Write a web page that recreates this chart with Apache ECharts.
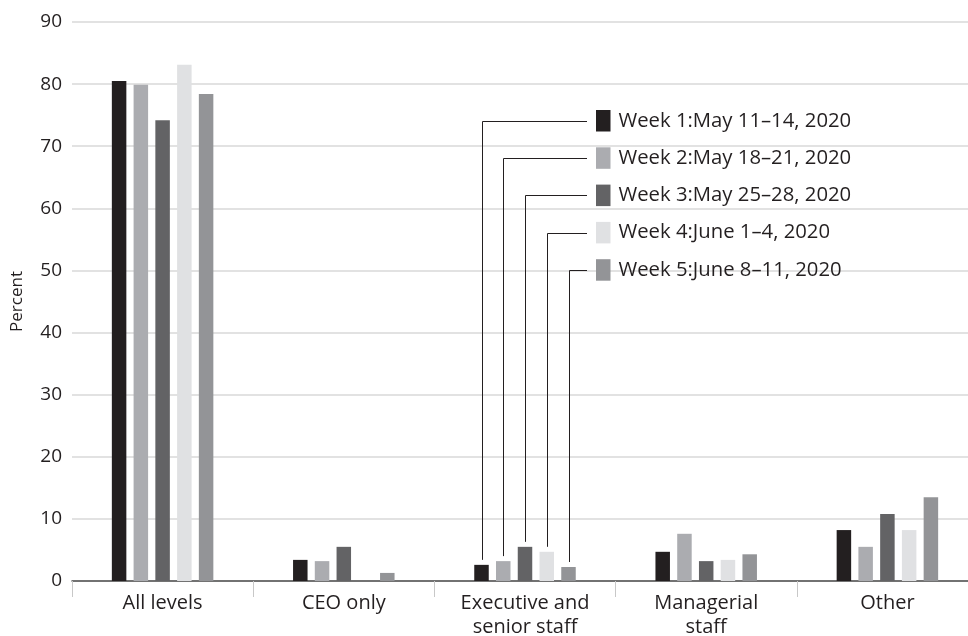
<!DOCTYPE html>
<html>
<head>
<meta charset="utf-8">
<script src="https://cdn.jsdelivr.net/npm/echarts@6/dist/echarts.min.js"></script>
<style>
html,body{margin:0;padding:0;background:#fff;}
#chart{width:968px;height:636px;}
</style>
</head>
<body>
<div id="chart"></div>
<script>
const categories = ['All levels', 'CEO only', 'Executive and\nsenior staff', 'Managerial\nstaff', 'Other'];
const seriesNames = [
  'Week 1:May 11–14, 2020',
  'Week 2:May 18–21, 2020',
  'Week 3:May 25–28, 2020',
  'Week 4:June 1–4, 2020',
  'Week 5:June 8–11, 2020'
];
const week1 = [80.5, 3.4, 2.6, 4.7, 8.2];
const week2 = [79.9, 3.2, 3.2, 7.6, 5.5];
const week3 = [74.2, 5.5, 5.5, 3.2, 10.8];
const week4 = [83.1, 0, 4.7, 3.4, 8.2];
const week5 = [78.4, 1.3, 2.25, 4.3, 13.5];
const seriesValues = [week1, week2, week3, week4, week5];
const colors = ['#231f20', '#abacb0', '#636365', '#e0e1e3', '#939497'];
const yTicks = [0, 10, 20, 30, 40, 50, 60, 70, 80, 90];

const FONT = 'Open Sans';
const TXT = '#231f20';
const BAR_W = 14.5;
const BAR_GAP = 7.25;
const LEG_LEFT = 596;
const LEG_TOP = 110;
const LEG_ITEM_H = 21.5;
const LEG_GAP = 15.8;
const LEADER_CAT = 2;

const chart = echarts.init(document.getElementById('chart'), null, {renderer: 'canvas'});

const option = {
  animation: false,
  color: colors,
  grid: {left: 72, top: 22, right: -10, bottom: 55, containLabel: false, outerBoundsMode: 'none'},
  legend: {
    orient: 'vertical',
    left: LEG_LEFT,
    top: LEG_TOP,
    padding: 0,
    icon: 'rect',
    itemWidth: 14.5,
    itemHeight: LEG_ITEM_H,
    itemGap: LEG_GAP,
    textStyle: {fontFamily: FONT, fontSize: 20.3, color: TXT, padding: [0, 0, 0, 3]},
    selectedMode: false,
    data: seriesNames
  },
  xAxis: {
    type: 'category',
    data: categories,
    axisLine: {lineStyle: {color: '#4d4d4d', width: 1.5}},
    axisTick: {show: true, length: 16, lineStyle: {color: '#c8c8c8'}},
    axisLabel: {fontFamily: FONT, fontSize: 20, color: TXT, margin: 11, lineHeight: 23.5, interval: 0}
  },
  yAxis: {
    type: 'value',
    min: yTicks[0],
    max: yTicks[yTicks.length - 1],
    interval: 10,
    name: 'Percent',
    nameLocation: 'middle',
    nameGap: 46,
    nameTextStyle: {fontFamily: FONT, fontSize: 17, color: TXT},
    axisLine: {show: false},
    axisTick: {show: false},
    axisLabel: {fontFamily: FONT, fontSize: 19, color: TXT, margin: 10},
    splitLine: {lineStyle: {color: '#d9d9d9', width: 1.5}}
  },
  series: seriesNames.map((n, i) => ({
    name: n,
    type: 'bar',
    data: seriesValues[i],
    barWidth: BAR_W,
    barGap: (BAR_GAP / BAR_W * 100) + '%',
    itemStyle: {color: colors[i]}
  }))
};
chart.setOption(option);

function drawLeaders() {
  const elems = [];
  const n = seriesNames.length;
  const rowStep = LEG_ITEM_H + LEG_GAP;
  for (let i = 0; i < n; i++) {
    const v = seriesValues[i][LEADER_CAT];
    const p = chart.convertToPixel({gridIndex: 0}, [LEADER_CAT, v]);
    const x = p[0] + (i - (n - 1) / 2) * (BAR_W + BAR_GAP);
    const yTop = p[1] - 5;
    const rowY = LEG_TOP + LEG_ITEM_H / 2 + i * rowStep;
    const xEnd = LEG_LEFT - 9;
    elems.push({
      type: 'polyline',
      shape: {points: [[Math.round(x) + 0.5, yTop], [Math.round(x) + 0.5, Math.round(rowY) + 0.5], [xEnd, Math.round(rowY) + 0.5]]},
      style: {stroke: '#231f20', lineWidth: 1, fill: null},
      z: 10
    });
  }
  chart.setOption({graphic: elems});
}
drawLeaders();
</script>
</body>
</html>
